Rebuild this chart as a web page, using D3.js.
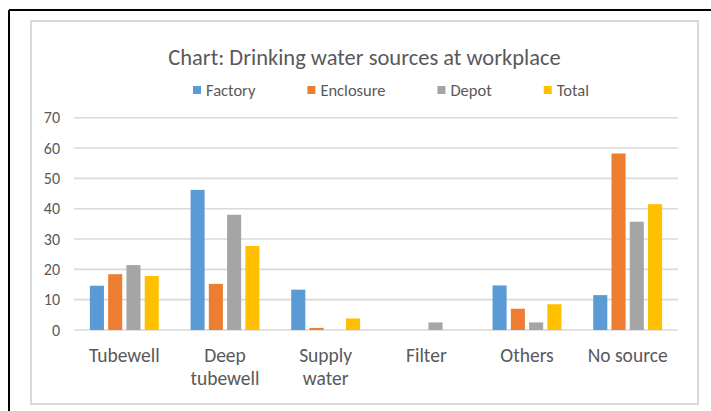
<!DOCTYPE html>
<html lang="en">
<head>
    <meta charset="utf-8">
    <title>Drinking water sources at workplace</title>
    <style>
        body { margin: 0; background: #fff; }
        svg text { font-family: Carlito, Calibri, Lato, sans-serif; fill: #595959; }
    </style>
    <script src="https://d3js.org/d3.v7.min.js" charset="utf-8"></script>
</head>
<body>
<svg id="chart" width="711" height="411"></svg>

<script type="text/javascript">
    var categories = ["Tubewell", "Deep tubewell", "Supply water", "Filter", "Others", "No source"];
    var seriesNames = ["Factory", "Enclosure", "Depot", "Total"];
    var colors = ["#5B9BD5", "#ED7D31", "#A5A5A5", "#FFC000"];

    var factory   = [14.6, 46.2, 13.3, 0,   14.7, 11.5];
    var enclosure = [18.4, 15.2, 0.7,  0,   7.0,  58.2];
    var depot     = [21.4, 38.0, 0,    2.5, 2.5,  35.7];
    var total     = [17.8, 27.7, 3.8,  0,   8.5,  41.5];

    var yTicks = [0, 10, 20, 30, 40, 50, 60, 70];

    var series = [factory, enclosure, depot, total];

    var svg = d3.select("#chart");

    // outer frame (black, top + left only) and chart area border
    svg.append("line").attr("x1", 9).attr("y1", 10).attr("x2", 711).attr("y2", 10)
        .attr("stroke", "#000").attr("stroke-width", 2);
    svg.append("line").attr("x1", 9).attr("y1", 10).attr("x2", 9).attr("y2", 411)
        .attr("stroke", "#000").attr("stroke-width", 2);
    svg.append("rect").attr("x", 31).attr("y", 21).attr("width", 667).attr("height", 383)
        .attr("fill", "#fff").attr("stroke", "#D9D9D9").attr("stroke-width", 2);

    var plotLeft = 74, plotRight = 678, plotTop = 117.7, plotBottom = 330;

    var y = d3.scaleLinear().domain([0, 70]).range([plotBottom, plotTop]);
    var x0 = d3.scaleBand().domain(categories).range([plotLeft, plotRight]).padding(0);
    var x1 = d3.scaleBand().domain(seriesNames).range([0, x0.bandwidth()])
        .paddingInner(0.23).paddingOuter(0.87);

    // grid
    svg.append("g")
        .selectAll("line")
        .data(yTicks)
        .join("line")
        .attr("x1", plotLeft).attr("x2", plotRight)
        .attr("y1", d => y(d)).attr("y2", d => y(d))
        .attr("stroke", "#D9D9D9").attr("stroke-width", 1.6);

    // y labels
    svg.append("g")
        .selectAll("text")
        .data(yTicks)
        .join("text")
        .attr("x", 60).attr("y", d => y(d))
        .attr("dy", "0.35em")
        .attr("text-anchor", "end")
        .attr("font-size", "16px")
        .text(d => d);

    // bars
    var groups = svg.append("g")
        .selectAll("g")
        .data(categories)
        .join("g")
        .attr("transform", d => "translate(" + x0(d) + ",0)");

    groups.selectAll("rect")
        .data((c, i) => seriesNames.map((s, j) => ({ s: s, v: series[j][i], color: colors[j] })))
        .join("rect")
        .filter(d => d.v > 0)
        .attr("x", d => x1(d.s))
        .attr("width", x1.bandwidth())
        .attr("y", d => y(d.v))
        .attr("height", d => y(0) - y(d.v))
        .attr("fill", d => d.color);

    // category labels, wrapped when they get too wide for the band
    var catText = svg.append("g")
        .selectAll("text")
        .data(categories)
        .join("text")
        .attr("x", d => x0(d) + x0.bandwidth() / 2)
        .attr("y", 362)
        .attr("text-anchor", "middle")
        .attr("font-size", "19.5px");

    catText.each(function (d) {
        var t = d3.select(this);
        var words = d.split(" ");
        var probe = t.text(d).node().getComputedTextLength();
        t.text(null);
        var lines = probe > x0.bandwidth() * 0.85 ? words : [d];
        lines.forEach((w, i) => {
            t.append("tspan").attr("x", x0(d) + x0.bandwidth() / 2)
                .attr("dy", i === 0 ? 0 : 23).text(w);
        });
    });

    // title
    svg.append("text")
        .attr("x", 364.5).attr("y", 65)
        .attr("text-anchor", "middle")
        .attr("font-size", "22.5px")
        .text("Chart: Drinking water sources at workplace");

    // legend
    var legend = svg.append("g").attr("transform", "translate(193,0)");
    var lx = 0;
    seriesNames.forEach((s, j) => {
        var item = legend.append("g").attr("transform", "translate(" + lx + ",0)");
        item.append("rect").attr("x", 0).attr("y", 86).attr("width", 8).attr("height", 8)
            .attr("fill", colors[j]);
        var txt = item.append("text").attr("x", 13).attr("y", 96)
            .attr("font-size", "16.5px").text(s);
        lx += 13 + txt.node().getComputedTextLength() + 52;
    });
</script>
</body>
</html>
